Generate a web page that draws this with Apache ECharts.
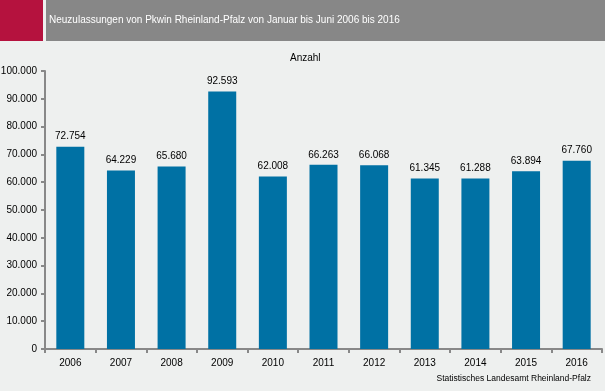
<!DOCTYPE html>
<html><head><meta charset="utf-8">
<script src="https://cdn.jsdelivr.net/npm/echarts@6/dist/echarts.min.js"></script>
<style>html,body{margin:0;padding:0;background:#eef0ef;}#c{width:605px;height:391px;}</style>
</head><body><div id="c"></div>
<script>
const categories = ['2006','2007','2008','2009','2010','2011','2012','2013','2014','2015','2016'];
const values = [72754, 64229, 65680, 92593, 62008, 66263, 66068, 61345, 61288, 63894, 67760];
const titleText = 'Neuzulassungen von Pkwin Rheinland-Pfalz von Januar bis Juni 2006 bis 2016';
const unitText = 'Anzahl';
const sourceText = 'Statistisches Landesamt Rheinland-Pfalz';
const fmt = v => String(v).replace(/\B(?=(\d{3})+(?!\d))/g, '.');
const font = '"Liberation Sans", Arial, sans-serif';
const chart = echarts.init(document.getElementById('c'));
chart.setOption({
  backgroundColor: '#eef0ef',
  animation: false,
  textStyle: {fontFamily: font},
  graphic: [
    {type:'rect', shape:{x:0,y:0,width:43,height:41}, style:{fill:'#b5123e'}},
    {type:'rect', shape:{x:46,y:0,width:559,height:41}, style:{fill:'#878787'}},
    {type:'text', left:49, top:15, style:{text:titleText, fill:'#ffffff', font:'10px '+font}},
    {type:'text', left:290, top:53, style:{text:unitText, fill:'#000', font:'10px '+font}},
    {type:'text', right:14, top:374, style:{text:sourceText, fill:'#000', font:'8.5px '+font}}
  ],
  grid: {left:45, right:3, top:71, bottom:42, containLabel:false, outerBoundsMode:'none'},
  xAxis: {
    type:'category', data:categories,
    axisLine:{lineStyle:{color:'#888', width:2}},
    axisTick:{show:true, length:4, lineStyle:{color:'#888', width:2}},
    axisLabel:{color:'#000', fontSize:10, margin:9, fontFamily:font}
  },
  yAxis: {
    type:'value', min:0, max:100000, interval:10000,
    axisLine:{show:true, lineStyle:{color:'#888', width:2}},
    axisTick:{show:true, length:4, lineStyle:{color:'#888', width:2}},
    splitLine:{show:false},
    axisLabel:{color:'#000', fontSize:10, margin:8, fontFamily:font, formatter: v => fmt(v)}
  },
  series: [{
    type:'bar', data:values, barWidth:28,
    itemStyle:{color:'#0071a4'},
    label:{show:true, position:'top', color:'#000', fontSize:10, fontFamily:font, distance:5, formatter: p => fmt(p.value)}
  }]
});
</script></body></html>
